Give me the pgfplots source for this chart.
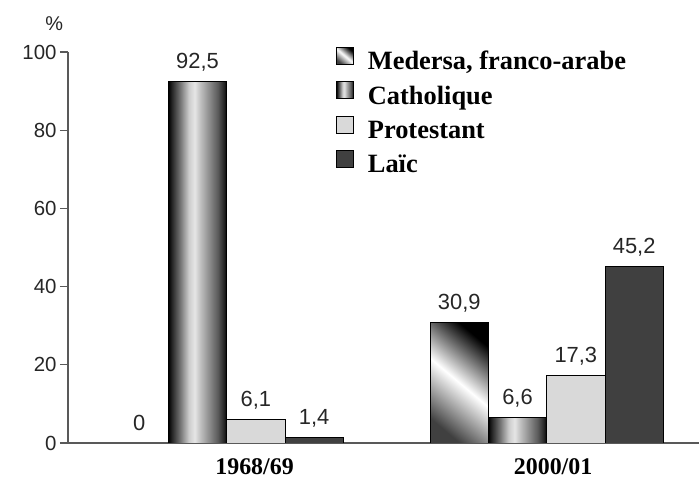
\documentclass[border=0pt]{standalone}
\usepackage{fontspec}
\setmainfont{Liberation Serif}
\newfontfamily\arial{Liberation Sans}
\usepackage{pgfplots}
\pgfplotsset{compat=1.18}

\pgfdeclarehorizontalshading{cyl}{100bp}{color(0bp)=(black); color(25bp)=(black); color(28bp)=(black!85); color(35bp)=(black!55); color(42.5bp)=(black!20); color(47.5bp)=(black!10); color(52.5bp)=(black!25); color(60bp)=(black!45); color(67.5bp)=(black!65); color(72.5bp)=(black!85); color(75bp)=(black); color(100bp)=(black)}

\pgfplotsset{
  myleg/.style={legend image code/.code={\draw[##1, line width=0.6bp] (0bp,-1bp) rectangle (17bp,16bp); \path (31bp,0bp);}},
  mbar/.style={ybar, bar width=58.3bp, bar shift=#1, draw=black, line width=0.8bp, myleg,
    every node near coord/.append style={xshift=#1}},
  medersa/.style={mbar=-87.45bp, shading=axis, top color=black, bottom color=black!75, middle color=white, shading angle=-40},
  catho/.style={mbar=-29.15bp, shading=cyl},
  prot/.style={mbar=29.15bp, fill=black!15},
  laic/.style={mbar=87.45bp, fill=black!75},
}

\begin{document}
\begin{tikzpicture}
\begin{axis}[
  at={(68bp,36bp)}, anchor=south west,
  scale only axis, width=631bp, height=391bp,
  xmin=-0.496, xmax=1.476, ymin=0, ymax=100,
  axis x line=bottom, axis y line=left,
  axis line style={-, black!65, line width=1.1bp},
  xtick={0.087,1.02}, xticklabels={1968/69,2000/01},
  xtick style={draw=none},
  ytick={0,20,40,60,80,100},
  tick align=outside, major tick length=8bp,
  ytick style={black!65, line width=1.1bp},
  /pgf/number format/assume math mode=true,
  yticklabel style={font=\arial\fontsize{20.5}{20.5}\selectfont, text=black!85},
  xticklabel style={font=\bfseries\fontsize{24}{24}\selectfont, inner sep=0pt, anchor=north, yshift=-7bp},
  ylabel={\%},
  ylabel style={rotate=-90, at={(axis description cs:-0.022,1.0716)}, anchor=center, font=\arial\fontsize{20}{20}\selectfont, text=black!85},
  nodes near coords={\pgfmathprintnumber[fixed,precision=1,use comma]{\pgfplotspointmeta}},
  every node near coord/.append style={font=\arial\fontsize{22}{22}\selectfont, anchor=base, yshift=13bp, text=black!85, inner sep=0pt},
  legend style={at={(rel axis cs:0.42,1.018)}, anchor=north west, draw=none, fill=none,
    font=\bfseries\fontsize{26.5}{26.5}\selectfont, row sep=6.5bp,
    nodes={inner sep=0pt, text height=18bp, text depth=5bp}},
  legend cell align=left,
]
\addplot[medersa] coordinates {(0,0)};
\addplot[catho] coordinates {(0,92.5)};
\addplot[prot] coordinates {(0,6.1)};
\addplot[laic] coordinates {(0,1.4)};
\addplot[medersa, forget plot] coordinates {(1,30.9)};
\addplot[catho, forget plot] coordinates {(1,6.6)};
\addplot[prot, forget plot] coordinates {(1,17.3)};
\addplot[laic, forget plot] coordinates {(1,45.2)};
\legend{{Medersa, franco-arabe}, Catholique, Protestant, La\"ic}
\end{axis}
\pgfresetboundingbox
\useasboundingbox (0,0) rectangle (699bp,479bp);
\end{tikzpicture}
\end{document}
